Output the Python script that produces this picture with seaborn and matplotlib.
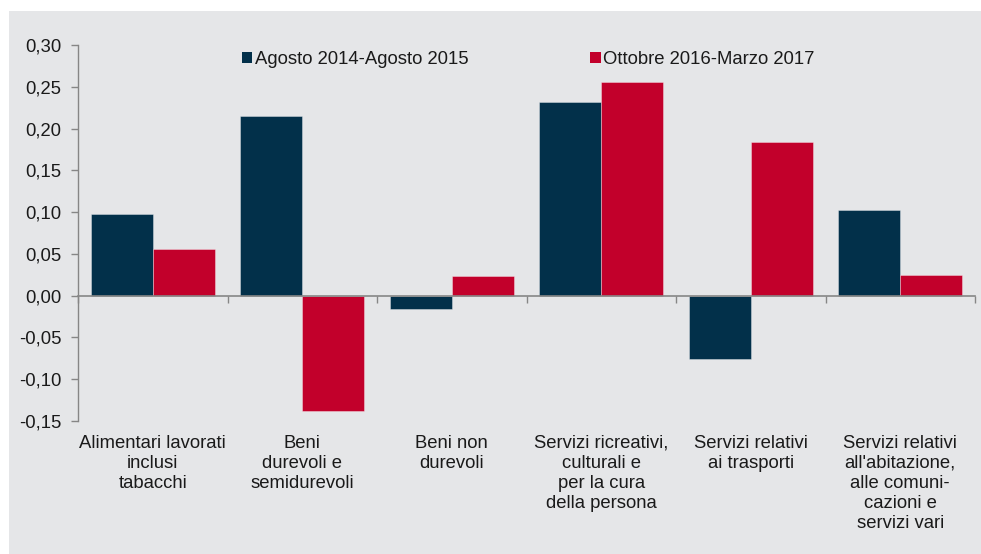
import matplotlib
matplotlib.use("Agg")
import matplotlib.pyplot as plt
from matplotlib.patches import Patch, Rectangle
from matplotlib.ticker import FuncFormatter
import numpy as np
import pandas as pd
import seaborn as sns

categories = [
    "Alimentari lavorati\ninclusi\ntabacchi",
    "Beni\ndurevoli e\nsemidurevoli",
    "Beni non\ndurevoli",
    "Servizi ricreativi,\nculturali e\nper la cura\ndella persona",
    "Servizi relativi\nai trasporti",
    "Servizi relativi\nall'abitazione,\nalle comuni-\ncazioni e\nservizi vari",
]
series_names = ["Agosto 2014-Agosto 2015", "Ottobre 2016-Marzo 2017"]
values_2014_2015 = [0.098, 0.215, -0.016, 0.232, -0.076, 0.103]
values_2016_2017 = [0.056, -0.138, 0.023, 0.256, 0.184, 0.025]
y_ticks = [-0.15, -0.10, -0.05, 0.00, 0.05, 0.10, 0.15, 0.20, 0.25, 0.30]

NAVY = "#02304a"
RED = "#c2002b"
BG = "#e5e6e8"
AXIS = "#868686"
TEXT = "#1a1a1a"
FS = 13.3

df = pd.DataFrame({
    "categoria": categories * 2,
    "periodo": [series_names[0]] * len(categories) + [series_names[1]] * len(categories),
    "valore": values_2014_2015 + values_2016_2017,
})

sns.set_theme(style="white")
plt.rcParams["font.family"] = ["Liberation Sans", "DejaVu Sans"]

W, H = 981, 554
fig = plt.figure(figsize=(W / 100, H / 100), dpi=100)
fig.patch.set_facecolor("white")
# grey panel behind the chart
fig.patches.append(Rectangle((9 / W, 0), 1 - 9 / W, 1 - 11 / H, transform=fig.transFigure,
                             facecolor=BG, edgecolor="none", zorder=-10))

ax = fig.add_axes([78 / W, 1 - 421 / H, 897 / W, 376 / H])
ax.set_facecolor("none")

sns.barplot(data=df, x="categoria", y="valore", hue="periodo",
            palette=[NAVY, RED], width=0.83, ax=ax, legend=False,
            edgecolor=(1, 1, 1, 0.35), linewidth=0.7, saturation=1)

ax.set_xlim(-0.5, len(categories) - 0.5)
ax.set_ylim(-0.15, 0.30)
ax.set_yticks(y_ticks)
ax.yaxis.set_major_formatter(FuncFormatter(lambda v, _: f"{v:.2f}".replace(".", ",").replace("-0,00", "0,00")))
ax.tick_params(axis="y", direction="out", length=5, width=1, color=AXIS,
               labelsize=FS, labelcolor=TEXT, pad=7, left=True)

for s in ["top", "right"]:
    ax.spines[s].set_visible(False)
ax.spines["left"].set_color(AXIS)
ax.spines["left"].set_linewidth(1)
ax.spines["bottom"].set_position(("data", 0))
ax.spines["bottom"].set_color(AXIS)
ax.spines["bottom"].set_linewidth(1.2)

bounds = np.arange(-0.5, len(categories), 1.0)
ax.set_xticks(bounds)
ax.set_xticklabels([])
ax.tick_params(axis="x", direction="out", length=5, width=1, color=AXIS, bottom=True)
ax.set_xlabel("")
ax.set_ylabel("")

for i, lab in enumerate(categories):
    ax.text(i, -0.036, lab, transform=ax.get_xaxis_transform(), ha="center", va="top",
            fontsize=FS, color=TEXT, linespacing=1.24)

handles = [Patch(facecolor=NAVY, edgecolor="none"), Patch(facecolor=RED, edgecolor="none")]
leg = ax.legend(handles, series_names, loc="upper left",
                bbox_to_anchor=(242 / W, 1 - 51 / H), bbox_transform=fig.transFigure,
                ncol=2, frameon=False, fontsize=FS, handlelength=0.55, handleheight=0.55,
                handletextpad=0.15, columnspacing=6.6, borderpad=0, borderaxespad=0)
for t in leg.get_texts():
    t.set_color(TEXT)

fig.savefig("out.png", dpi=100, facecolor=fig.get_facecolor())
